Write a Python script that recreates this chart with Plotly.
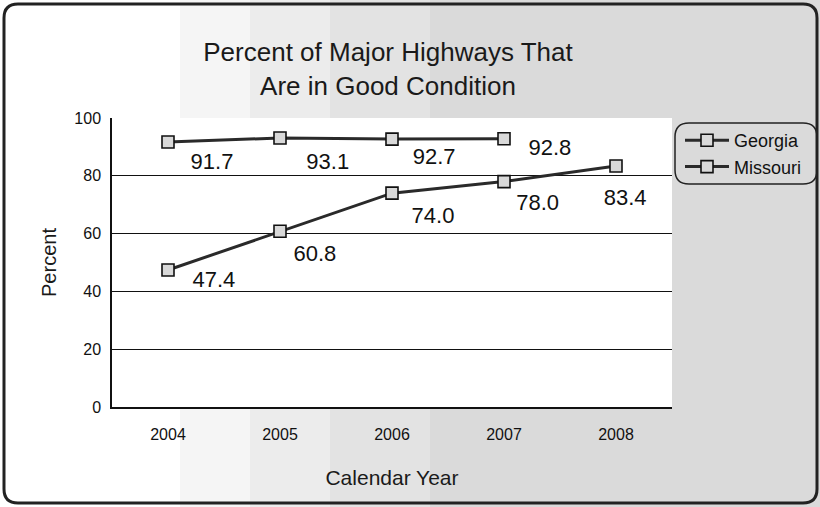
import plotly.graph_objects as go

years = ["2004", "2005", "2006", "2007", "2008"]
georgia_years = ["2004", "2005", "2006", "2007"]
georgia = [91.7, 93.1, 92.7, 92.8]
missouri = [47.4, 60.8, 74.0, 78.0, 83.4]
y_ticks = [0, 20, 40, 60, 80, 100]

# label placement (style only): position, leading spaces, gap size around point
georgia_textpos = ["bottom right", "bottom right", "bottom right", "bottom right"]
georgia_pad = [2, 2, 2, 4]
georgia_gap = [15, 21, 12, 0]
missouri_textpos = ["bottom right", "bottom right", "bottom right", "bottom right", "bottom center"]
missouri_pad = [4, 0, 1, 0, 3]
missouri_gap = [0, 20, 20, 18, 34]

W, H = 820, 507
L, R, T, B = 112, 672, 118, 407


def px(x):
    return (x - L) / (R - L)


def py(y):
    return (B - y) / (B - T)


def rounded_rect(x0, y0, x1, y1, r):
    def P(x, y):
        return f"{px(x):.5f},{py(y):.5f}"
    return (
        f"M {P(x0 + r, y0)} L {P(x1 - r, y0)} Q {P(x1, y0)} {P(x1, y0 + r)} "
        f"L {P(x1, y1 - r)} Q {P(x1, y1)} {P(x1 - r, y1)} "
        f"L {P(x0 + r, y1)} Q {P(x0, y1)} {P(x0, y1 - r)} "
        f"L {P(x0, y0 + r)} Q {P(x0, y0)} {P(x0 + r, y0)} Z"
    )


def labels(values, pads):
    return ["\u00a0" * p + f"{v:.1f}" for v, p in zip(values, pads)]


line_color = "#2a2a2a"
marker = dict(symbol="square", size=12, color="#d9d9d9",
              line=dict(color="#111111", width=1.6))
label_font = dict(size=22, color="#111111", family="Liberation Sans, Arial, sans-serif")

fig = go.Figure()
fig.add_trace(go.Scatter(
    x=georgia_years, y=georgia, name="Georgia", mode="lines+markers",
    line=dict(color=line_color, width=3), marker=marker,
))
fig.add_trace(go.Scatter(
    x=years, y=missouri, name="Missouri", mode="lines+markers",
    line=dict(color=line_color, width=3), marker=marker,
))
# data labels at the data points (invisible markers only set the text gap)
for xs, ys, pos, pads, gaps in ((georgia_years, georgia, georgia_textpos, georgia_pad, georgia_gap),
                                (years, missouri, missouri_textpos, missouri_pad, missouri_gap)):
    fig.add_trace(go.Scatter(
        x=xs, y=ys, mode="markers+text", showlegend=False, hoverinfo="skip",
        text=labels(ys, pads), textposition=pos, textfont=label_font,
        marker=dict(size=gaps, color="rgba(0,0,0,0)", line=dict(width=0)),
    ))

shapes = []
# background tint (approximation of scan texture)
for x0, x1, col in ((180, 250, "#f5f5f5"), (250, 330, "#ececec"),
                    (330, 430, "#e3e3e3"), (430, 820, "#dadada")):
    shapes.append(dict(type="rect", xref="paper", yref="paper", layer="below",
                       x0=px(x0), x1=px(x1), y0=py(507), y1=py(0),
                       fillcolor=col, line=dict(width=0)))
# plot area white
shapes.append(dict(type="rect", xref="paper", yref="paper", layer="below",
                   x0=0, x1=1, y0=0, y1=1,
                   fillcolor="white", line=dict(width=0)))
# outer rounded border
shapes.append(dict(type="path", xref="paper", yref="paper", layer="above",
                   path=rounded_rect(4, 4, 817, 503, 14),
                   line=dict(color="#222222", width=3)))
# legend rounded border
shapes.append(dict(type="path", xref="paper", yref="paper", layer="above",
                   path=rounded_rect(675, 123, 817, 184, 14),
                   line=dict(color="#222222", width=1.5)))

fig.update_layout(
    width=W, height=H,
    margin=dict(l=L, r=W - R, t=T, b=H - B),
    paper_bgcolor="white", plot_bgcolor="rgba(0,0,0,0)",
    font=dict(family="Liberation Sans, Arial, sans-serif", color="#111111"),
    title=dict(text="Percent of Major Highways That<br>Are in Good Condition",
               xref="container", x=388 / W, xanchor="center", y=1 - 61 / H, yanchor="middle",
               font=dict(size=26, color="#1a1a1a")),
    showlegend=True,
    legend=dict(x=px(680), y=py(122), xanchor="left", yanchor="top",
                bgcolor="rgba(0,0,0,0)", borderwidth=0,
                font=dict(size=18, color="#111111"),
                itemwidth=44, tracegroupgap=0),
    shapes=shapes,
)
fig.update_xaxes(
    type="category", range=[-0.5, 4.5], showgrid=False,
    showline=True, linecolor="#111111", linewidth=1.5,
    ticks="", ticklabelstandoff=12,
    tickfont=dict(size=16, color="#111111"),
    title=dict(text="Calendar Year", font=dict(size=21, color="#1a1a1a"), standoff=28),
)
fig.update_yaxes(
    range=[0, 100], tickvals=y_ticks, showgrid=True, gridcolor="#111111", gridwidth=1.2,
    showline=True, linecolor="#111111", linewidth=1.5, zeroline=False,
    ticks="", ticklabelstandoff=6,
    tickfont=dict(size=16, color="#111111"),
    title=dict(text="Percent", font=dict(size=20, color="#1a1a1a"), standoff=12),
)

fig.write_html("out.html", config={"displayModeBar": False})

with open("out.html", "r", encoding="utf-8") as f:
    html = f.read()
html = html.replace("<head>", "<head><style>html,body{margin:0;padding:0;overflow:hidden;}</style>", 1)
with open("out.html", "w", encoding="utf-8") as f:
    f.write(html)
